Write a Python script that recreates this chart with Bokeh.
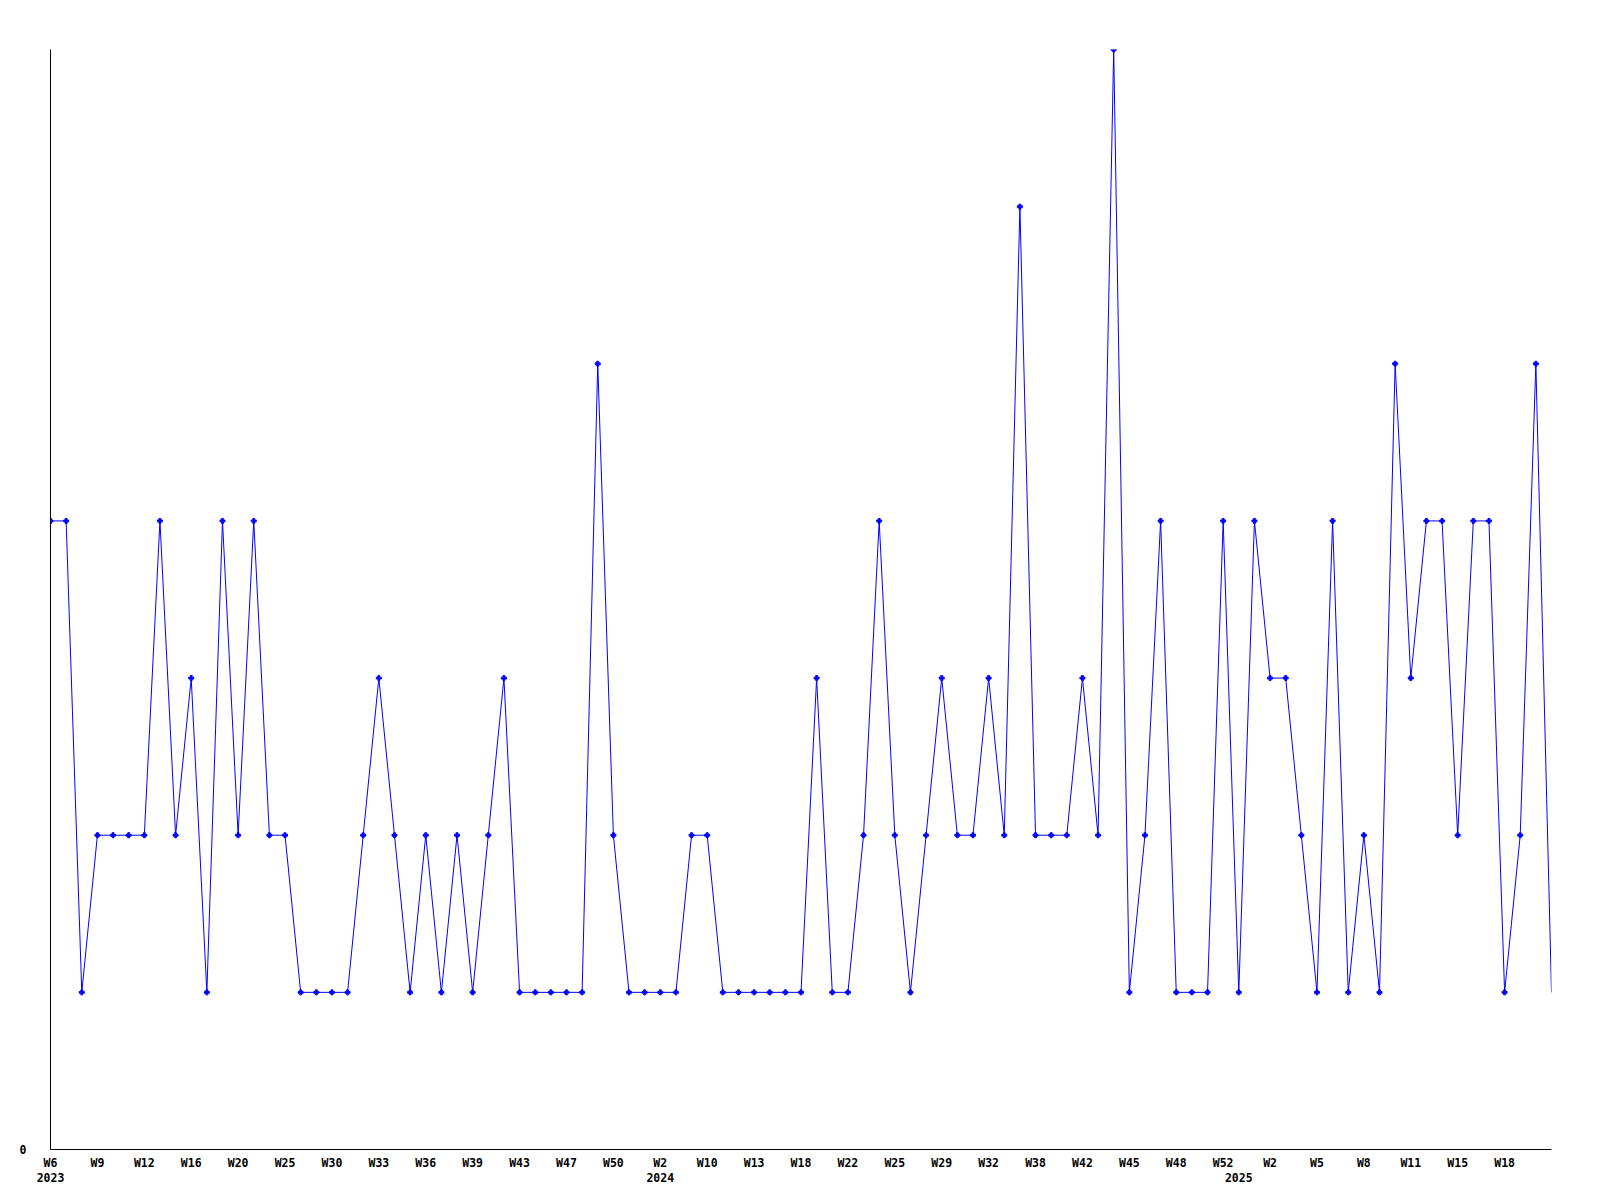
from bokeh.plotting import figure
from bokeh.models import Range1d, FixedTicker, ColumnDataSource, LinearAxis
from bokeh.embed import file_html
from bokeh.resources import INLINE

# weekly counts (97 points)
values = [4, 4, 1, 2, 2, 2, 2, 4, 2, 3,
          1, 4, 2, 4, 2, 2, 1, 1, 1, 1,
          2, 3, 2, 1, 2, 1, 2, 1, 2, 3,
          1, 1, 1, 1, 1, 5, 2, 1, 1, 1,
          1, 2, 2, 1, 1, 1, 1, 1, 1, 3,
          1, 1, 2, 4, 2, 1, 2, 3, 2, 2,
          3, 2, 6, 2, 2, 2, 3, 2, 7, 1,
          2, 4, 1, 1, 1, 4, 1, 4, 3, 3,
          2, 1, 4, 1, 2, 1, 5, 3, 4, 4,
          2, 4, 4, 1, 2, 5, 1]

week_labels = ["W6", "W9", "W12", "W16", "W20", "W25", "W30", "W33", "W36", "W39",
               "W43", "W47", "W50", "W2", "W10", "W13", "W18", "W22", "W25", "W29",
               "W32", "W38", "W42", "W45", "W48", "W52", "W2", "W5", "W8", "W11",
               "W15", "W18"]
year_labels = ["2023", "2024", "2025"]
year_index = [0, 39, 76]
label_step = 3

x = list(range(len(values)))
line_src = ColumnDataSource(dict(x=x, y=values))
pt_src = ColumnDataSource(dict(x=x[:-1], y=values[:-1]))

p = figure(frame_width=1501, frame_height=1100,
           min_border_left=50, min_border_right=33,
           min_border_top=49, min_border_bottom=30,
           x_range=Range1d(0, len(values) - 1), y_range=Range1d(0, max(values)),
           output_backend="svg", toolbar_location=None,
           background_fill_color="white", border_fill_color="white")
p.outline_line_color = None
p.xgrid.visible = False
p.ygrid.visible = False

p.line("x", "y", source=line_src, line_color="#0000ff", line_width=1)
p.scatter("x", "y", source=pt_src, marker="plus", size=5,
          fill_color="#0000ff", line_color="#0000ff")

font = "DejaVu Sans Mono"


def style_axis(ax, standoff):
    ax.major_tick_in = 0
    ax.major_tick_out = 0
    ax.minor_tick_line_color = None
    ax.major_label_text_font = font
    ax.major_label_text_font_style = "bold"
    ax.major_label_text_font_size = "11.5px"
    ax.major_label_text_color = "black"
    ax.major_label_standoff = standoff


wk_ticks = [i * label_step for i in range(len(week_labels))]
xa = p.xaxis[0]
xa.ticker = FixedTicker(ticks=wk_ticks)
xa.major_label_overrides = {t: lab for t, lab in zip(wk_ticks, week_labels)}
xa.axis_line_color = "black"
style_axis(xa, 6)

yr_axis = LinearAxis(ticker=FixedTicker(ticks=year_index),
                     major_label_overrides={t: lab for t, lab in zip(year_index, year_labels)})
yr_axis.axis_line_color = None
style_axis(yr_axis, 0)
p.add_layout(yr_axis, "below")

ya = p.yaxis[0]
ya.ticker = FixedTicker(ticks=[0])
ya.axis_line_color = "black"
style_axis(ya, 24)

open("out.html", "w").write(file_html(p, INLINE))
